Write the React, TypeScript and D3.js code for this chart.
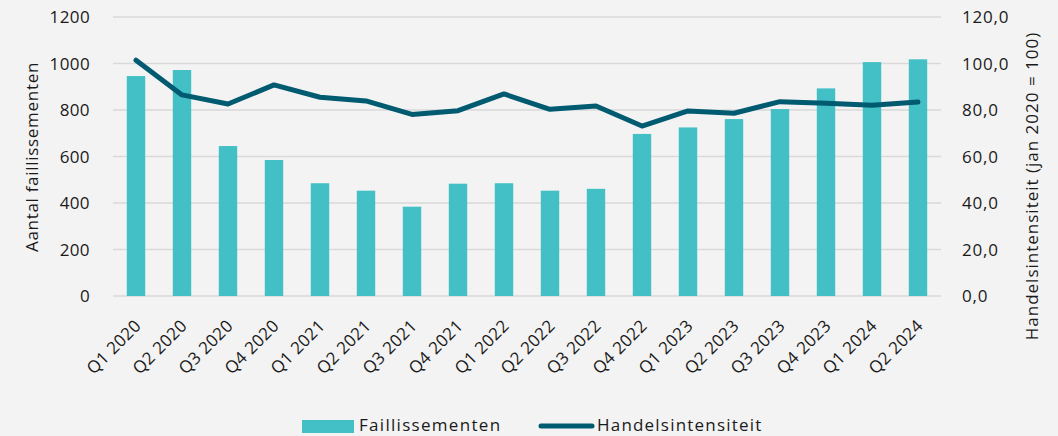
import React from "react";
import * as d3 from "d3";

const categories = [
  "Q1 2020", "Q2 2020", "Q3 2020", "Q4 2020",
  "Q1 2021", "Q2 2021", "Q3 2021", "Q4 2021",
  "Q1 2022", "Q2 2022", "Q3 2022", "Q4 2022",
  "Q1 2023", "Q2 2023", "Q3 2023", "Q4 2023",
  "Q1 2024", "Q2 2024",
];
const faillissementen = [946, 972, 645, 585, 485, 453, 384, 483, 485, 453, 461, 697, 725, 761, 804, 893, 1006, 1018];
const handelsintensiteit = [101.4, 86.5, 82.6, 90.8, 85.5, 83.9, 78.1, 79.7, 86.9, 80.3, 81.7, 73.1, 79.6, 78.6, 83.6, 82.9, 82.0, 83.4];
const leftTicks = [0, 200, 400, 600, 800, 1000, 1200];
const rightTicks = [0, 20, 40, 60, 80, 100, 120];

const W = 1058;
const H = 436;
const FONT = "'Open Sans', 'Noto Sans', sans-serif";
const BAR = "#42C0C5";
const LINE = "#005A70";
const GRID = "#D9D9D9";
const TEXT = "#1a1a1a";

export default function App() {
  const x = d3.scaleBand<string>().domain(categories).range([113, 941]).paddingInner(0.6).paddingOuter(0.3);
  const yL = d3.scaleLinear().domain([0, 1200]).range([296, 17]);
  const yR = d3.scaleLinear().domain([0, 120]).range([296, 17]);
  const fmtR = (v: number) => v.toFixed(1).replace(".", ",");
  const line = d3
    .line<number>()
    .x((_, i) => (x(categories[i]) as number) + x.bandwidth() / 2)
    .y((d) => yR(d));

  return (
    <svg width={W} height={H} style={{ position: "absolute", left: 0, top: 0 }} fontFamily={FONT}>
      <rect x={0} y={0} width={W} height={H} fill="#F3F3F3" />
      {leftTicks.map((t) => (
        <line key={"g" + t} x1={113} x2={941} y1={yL(t)} y2={yL(t)} stroke={GRID} strokeWidth={1.5} />
      ))}
      {leftTicks.map((t) => (
        <text key={"l" + t} x={90} y={yL(t)} dy="0.36em" textAnchor="end" fontSize={17} letterSpacing={0.4} fill={TEXT}>
          {t}
        </text>
      ))}
      {rightTicks.map((t) => (
        <text key={"r" + t} x={962} y={yR(t)} dy="0.36em" textAnchor="start" fontSize={17} letterSpacing={0.8} fill={TEXT}>
          {fmtR(t)}
        </text>
      ))}
      <text transform={`translate(38,157) rotate(-90)`} textAnchor="middle" fontSize={17} letterSpacing={0.7} fill={TEXT}>
        Aantal faillissementen
      </text>
      <text transform={`translate(1038,186) rotate(-90)`} textAnchor="middle" fontSize={17} letterSpacing={1} fill={TEXT}>
        Handelsintensiteit (jan 2020 = 100)
      </text>
      {categories.map((c, i) => (
        <rect
          key={"b" + c}
          x={x(c) as number}
          y={yL(faillissementen[i])}
          width={x.bandwidth()}
          height={yL(0) - yL(faillissementen[i])}
          fill={BAR}
        />
      ))}
      <path d={line(handelsintensiteit) || ""} fill="none" stroke={LINE} strokeWidth={5} strokeLinejoin="round" strokeLinecap="round" />
      {categories.map((c) => {
        const cx = (x(c) as number) + x.bandwidth() / 2;
        return (
          <text
            key={"x" + c}
            transform={`translate(${cx + 6},${327}) rotate(-45)`}
            textAnchor="end"
            fontSize={17}
            letterSpacing={0.3}
            fill={TEXT}
          >
            {c}
          </text>
        );
      })}
      <rect x={302} y={420} width={52} height={13} fill={BAR} />
      <text x={359} y={431} fontSize={17} letterSpacing={1.3} fill={TEXT}>Faillissementen</text>
      <line x1={541} x2={592} y1={426} y2={426} stroke={LINE} strokeWidth={5} strokeLinecap="round" />
      <text x={597} y={431} fontSize={17} letterSpacing={1.2} fill={TEXT}>Handelsintensiteit</text>
    </svg>
  );
}
